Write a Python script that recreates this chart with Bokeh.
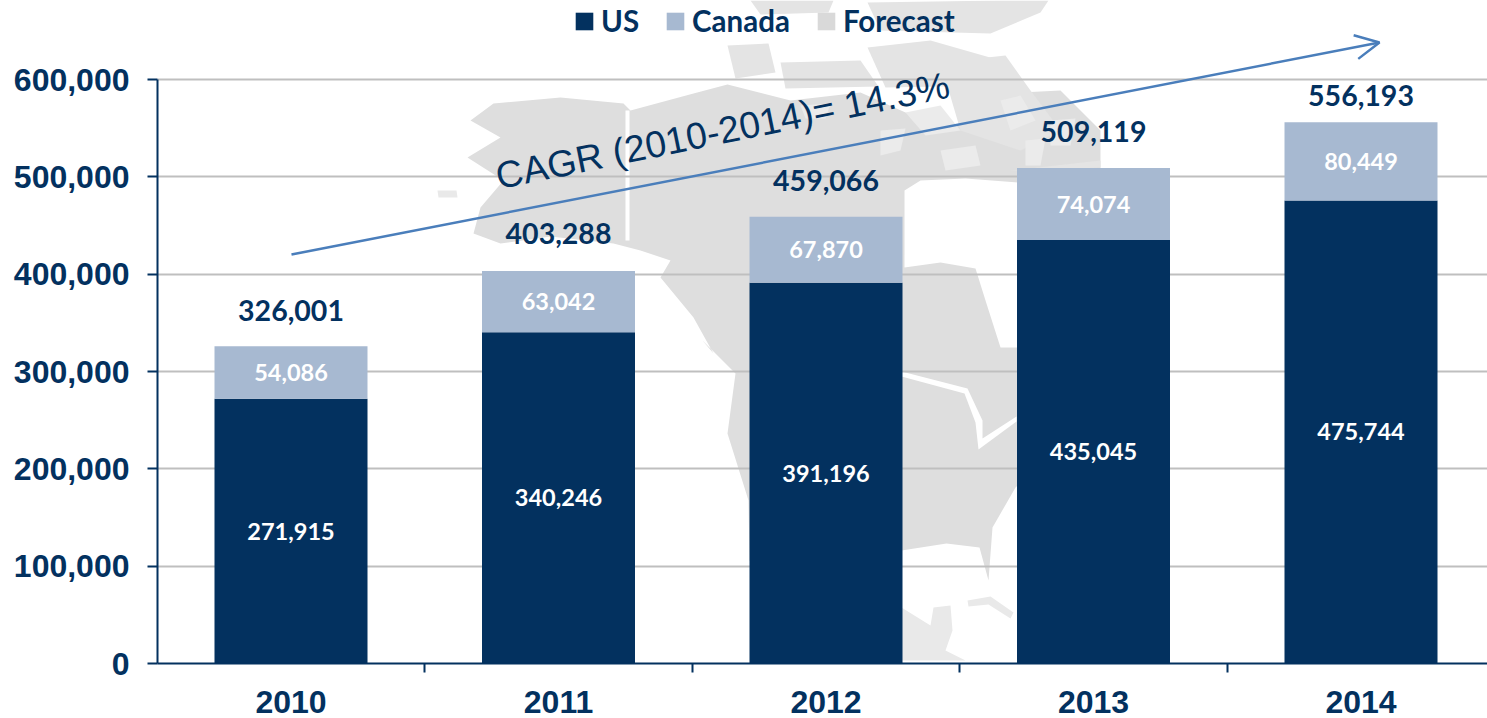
from bokeh.plotting import figure
from bokeh.models import (Range1d, FixedTicker, NumeralTickFormatter, Legend, LegendItem,
                          PolyAnnotation, Arrow, OpenHead, Label)
from bokeh.core.properties import value
from bokeh.embed import file_html
from bokeh.resources import INLINE

years = [2010, 2011, 2012, 2013, 2014]
us = [271915, 340246, 391196, 435045, 475744]
canada = [54086, 63042, 67870, 74074, 80449]
forecast = [0, 0, 0, 0, 0]
totals = [326001, 403288, 459066, 509119, 556193]
y_ticks = [0, 100000, 200000, 300000, 400000, 500000, 600000]
legend_names = ["US", "Canada", "Forecast"]
cagr_text = "CAGR (2010-2014)= 14.3%"

NAVY = "#03315F"
LIGHT = "#A7B9D1"
GREY = "#D9D9D9"
MAP = "#DEDEDE"
MAP2 = "#E9E9E9"
MAP3 = "#E4E4E4"

W, H = 1487, 718
L, T, B = 157, 0, 55
PX_SLOT = 267.5
x0 = 2010 - (290.5 - 157) / PX_SLOT
x1 = 2010 + (1487 - 290.5) / PX_SLOT
ymax = 600000 * 663 / 584.0

p = figure(width=W, height=H, output_backend="svg", toolbar_location=None,
           x_range=Range1d(x0, x1), y_range=Range1d(0, ymax),
           min_border_left=L, min_border_right=0, min_border_top=T, min_border_bottom=B,
           outline_line_color=None, background_fill_color="white", border_fill_color=None)

# screen units of annotations count from the frame's bottom-left corner
FX, FY = L, H - B
def sx(a):
    return a - FX
def sy(b):
    return FY - b

# --- background map, decorative, in page pixels ---
def poly(pts, color=MAP):
    p.add_layout(PolyAnnotation(xs=[sx(a) for a, _ in pts], ys=[sy(b) for _, b in pts],
                                xs_units="screen", ys_units="screen",
                                fill_color=color, fill_alpha=1, line_alpha=0, level="image"))

mainland = [(470,120),(493,103),(560,97),(623,103),(630,110),(693,93),(727,84),(790,100),(860,92),
            (905,112),(960,125),(1020,92),(1060,90),(1100,130),(1100,168),(1160,300),(1100,400),
            (1015,487),(992,527),(988,580),(979,547),(946,543),(901,550),(880,600),(780,600),
            (749,560),(748,500),(727,433),(735,373),(702,340),(713,353),(693,317),(660,277),
            (670,260),(640,250),(613,243),(550,236),(500,243),(473,233),(480,207),(503,180),
            (467,157),(500,137)]
poly(mainland)
for isl in [[(727,45),(768,43),(775,72),(735,78)],
            [(780,62),(860,60),(878,86),(785,88)],
            [(867,47),(930,40),(1000,60),(990,85),(885,87)],
            [(750,0),(833,0),(828,12),(760,14)],
            [(867,2),(1000,0),(1048,0),(1040,12),(990,33),(880,30)],
            [(940,62),(1005,55),(1030,90),(1060,130),(1020,150),(960,130)],
            [(1010,170),(1100,160),(1100,167),(1020,170)]]:
    poly(isl, MAP3)
# softer gaps among the northern islands
for gap in [[(905,112),(940,105),(960,130),(925,135)],
            [(1000,100),(1020,95),(1035,120),(1010,130)],
            [(1050,120),(1075,118),(1070,145),(1050,145)],
            [(880,130),(905,128),(900,150),(880,155)],
            [(940,150),(975,145),(980,165),(945,170)],
            [(800,105),(830,103),(825,118),(805,118)],
            [(1025,140),(1045,138),(1040,165),(1025,165)]]:
    poly(gap, "#EBEBEB")
poly([(901,607),(930,625),(933,607),(950,605),(952,630),(945,650),(965,660),(901,660)], MAP2)
poly([(967,600),(990,596),(1013,612),(1010,618),(988,604),(968,606)], MAP2)
poly([(437,190),(456,190),(457,197),(438,197)], MAP2)
# white details cut out of the land
poly([(904,190),(920,180),(965,178),(1018,182),(1018,347),(1000,347),(985,300),(975,268),
      (940,262),(904,267)], "white")
poly([(625,110),(629,110),(629,240),(625,240)], "white")
poly([(901,371),(967,388),(982,420),(982,438),(1016,416),(1016,421),(978,449),(975,422),(964,393),(901,376)], "white")

# --- stacked bars ---
bar_w = 153 / PX_SLOT
tops_ca = [u + c for u, c in zip(us, canada)]
r_us = p.vbar(x=years, top=us, bottom=0, width=bar_w, fill_color=NAVY, line_color=None)
r_ca = p.vbar(x=years, top=tops_ca, bottom=us, width=bar_w, fill_color=LIGHT, line_color=None)
r_fc = p.vbar(x=years, top=[t + f for t, f in zip(tops_ca, forecast)], bottom=tops_ca, width=bar_w,
              fill_color=GREY, line_color=None)

# --- axes ---
p.xaxis.ticker = FixedTicker(ticks=years, minor_ticks=[y - 0.5 for y in years] + [years[-1] + 0.5])
p.xaxis.major_tick_line_color = None
p.xaxis.minor_tick_in = 0
p.xaxis.minor_tick_out = 9
p.xaxis.minor_tick_line_color = NAVY
p.xaxis.minor_tick_line_width = 2
p.xaxis.axis_line_color = NAVY
p.xaxis.axis_line_width = 2
p.xaxis.major_label_text_font = "Liberation Sans"
p.xaxis.major_label_text_font_style = "bold"
p.xaxis.major_label_text_font_size = "32px"
p.xaxis.major_label_text_color = NAVY
p.xaxis.major_label_standoff = 18

p.yaxis.ticker = FixedTicker(ticks=y_ticks)
p.yaxis.bounds = (0, 600000)
p.yaxis.formatter = NumeralTickFormatter(format="0,0")
p.yaxis.major_tick_in = 0
p.yaxis.major_tick_out = 10
p.yaxis.major_tick_line_color = NAVY
p.yaxis.major_tick_line_width = 2
p.yaxis.minor_tick_line_color = None
p.yaxis.axis_line_color = NAVY
p.yaxis.axis_line_width = 2
p.yaxis.major_label_text_font = "Liberation Sans"
p.yaxis.major_label_text_font_style = "bold"
p.yaxis.major_label_text_font_size = "32px"
p.yaxis.major_label_text_color = NAVY
p.yaxis.major_label_standoff = 18

p.xgrid.visible = False
p.ygrid.ticker = FixedTicker(ticks=y_ticks[1:])
p.ygrid.grid_line_color = "#BFBFBF"
p.ygrid.grid_line_width = 2

# --- value labels ---
FONT = value("Lato")
mid_us = [u / 2 for u in us]
mid_ca = [u + c / 2 for u, c in zip(us, canada)]
fmt = lambda v: f"{v:,}"
p.text(x=years, y=mid_us, text=[fmt(v) for v in us], text_font=FONT, text_font_style="bold",
       text_font_size="23.5px", text_color="white", text_align="center", text_baseline="middle")
p.text(x=years, y=mid_ca, text=[fmt(v) for v in canada], text_font=FONT, text_font_style="bold",
       text_font_size="23.5px", text_color="white", text_align="center", text_baseline="middle")
total_offsets = [-36, -37, -36, -36, -27]
p.text(x=years, y=totals, y_offset=total_offsets, text=[fmt(v) for v in totals], text_font=FONT,
       text_font_style="bold", text_font_size="28.5px", text_color=NAVY, text_align="center",
       text_baseline="middle")

# --- CAGR arrow and text ---
p.add_layout(Arrow(end=OpenHead(size=24, line_color="#4A7EBB", line_width=2.5),
                   x_start=sx(291), y_start=sy(254), x_end=sx(1379), y_end=sy(42),
                   start_units="screen", end_units="screen",
                   line_color="#4A7EBB", line_width=2.5))
p.add_layout(Label(x=sx(722), y=sy(130), x_units="screen", y_units="screen", text=cagr_text,
                   text_font="Liberation Sans", text_font_size="37.5px", text_color=NAVY,
                   text_align="center", text_baseline="middle", angle=11.5, angle_units="deg"))

# --- legend ---
legend = Legend(items=[LegendItem(label=legend_names[0], renderers=[r_us]),
                       LegendItem(label=legend_names[1], renderers=[r_ca]),
                       LegendItem(label=legend_names[2], renderers=[r_fc])],
                orientation="horizontal", location=(416, 625), spacing=25, padding=0, margin=0,
                glyph_width=22, glyph_height=22, label_standoff=6,
                background_fill_alpha=0, border_line_color=None,
                label_text_font="Lato", label_text_font_style="bold",
                label_text_font_size="29.5px", label_text_color=NAVY)
p.add_layout(legend)

open("out.html", "w").write(file_html(p, INLINE))
